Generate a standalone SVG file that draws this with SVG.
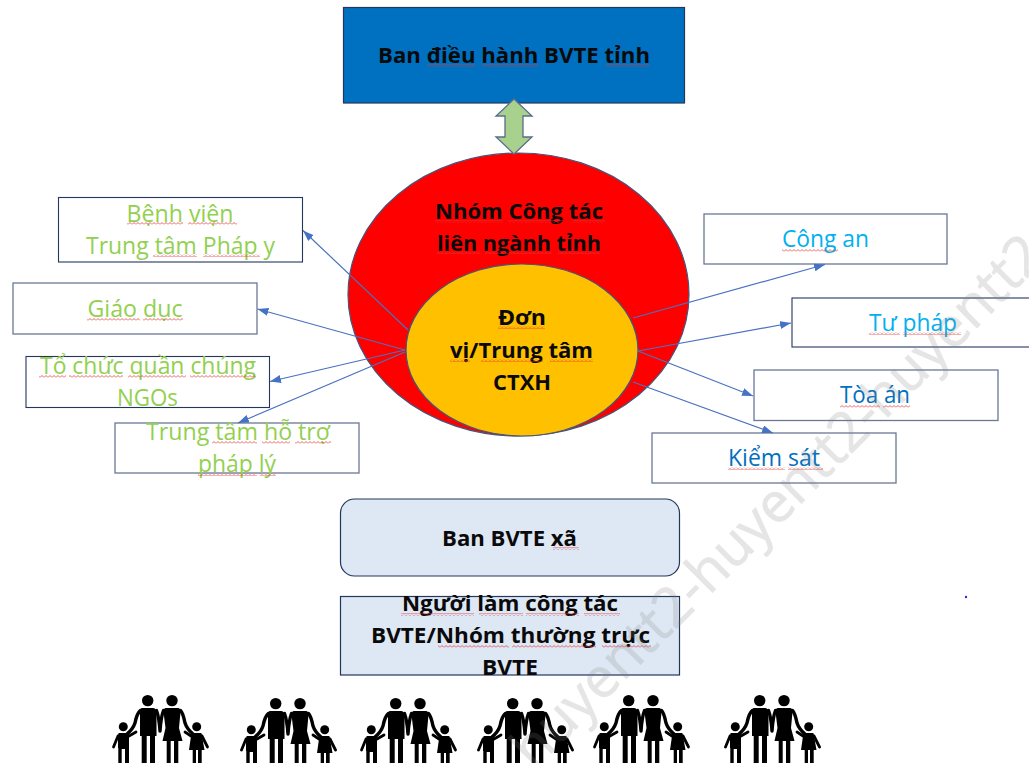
<svg xmlns="http://www.w3.org/2000/svg" width="1029" height="763" viewBox="0 0 1029 763">
<style>
text{font-family:"Open Sans","Noto Sans","Liberation Sans",sans-serif;text-anchor:middle}
.b{font-size:21.5px;font-weight:700;fill:#0a0a0a}
.g{font-size:23px;fill:#92d050}
.c{font-size:23px;fill:#00b0f0}
.d{font-size:23px;fill:#0070c0}
.bx{fill:#fff;stroke:#6a7896;stroke-width:1.3}
.bd{fill:#fff;stroke:#24355e;stroke-width:1.100}
.cn{fill:none;stroke:#4a72c0;stroke-width:1.2;marker-end:url(#ah)}
.sq{fill:url(#sq)}
.wm{font-family:"Open Sans","Liberation Sans",sans-serif;font-size:55px;fill:#808080;stroke:#808080;stroke-width:.8;opacity:.2;text-anchor:start}
.lb{fill:none;stroke:#000;stroke-linecap:round;stroke-linejoin:round}
</style>
<defs>
<marker id="ah" markerWidth="12" markerHeight="9" refX="11" refY="4" orient="auto" markerUnits="userSpaceOnUse"><path d="M0 0L11 4L0 8Z" fill="#4472c4"/></marker>
<pattern id="sq" width="4" height="3" patternUnits="userSpaceOnUse"><path d="M0 2.5L2 .5L4 2.5" fill="none" stroke="#e2383a" stroke-width=".8"/></pattern>
<symbol id="fam" width="98" height="68" viewBox="0 0 98 68" overflow="visible">
<circle cx="35.7" cy="5.6" r="5.7"/><circle cx="60" cy="5.6" r="5.7"/>
<path d="M30 13H41Q44 13 44.500 17V41H43V68H38V41H34.700V68H29.700V41H28V17Q28 13 30 13Z"/>
<path d="M54 13H66Q68.500 13 68.500 17L67 33L70.500 46H66.300V68H62V46H58.700V68H54.700V46H50.500L53.500 33L51.500 17Q51.500 13 54 13Z"/>
<path class="lb" stroke-width="3.400" d="M28.500 15.500Q25 18 23 28Q21 34 15 39M44.500 15.500Q47 22 48 36M51.500 15.500Q49 22 48 36M68.500 15.500Q71 18 73 28Q75 34 81 39"/>
<circle cx="11.300" cy="31.700" r="4.500"/><circle cx="84.700" cy="31.700" r="4.500"/>
<path d="M7 38H15Q17 38 17 41V53H17V68H13V54H9.700V68H6.300V53H6V41Q6 38 7 38Z"/>
<path d="M80 38H89Q90 38 90 41L92.500 55H89.700V68H86V55H84V68H80.700V55H77L79 41Q79 38 80 38Z"/>
<path class="lb" stroke-width="2.800" d="M6 41L1.500 52M17 41L24 37M90 41L95.500 52M79 41L73 37"/>
</symbol>
</defs>
<rect width="1029" height="763" fill="#fff"/>

<g id="node-big-circle"><ellipse cx="518.500" cy="294.500" rx="170.500" ry="141.500" fill="#f00" stroke="#46557a" stroke-width="1.200"/>
<text class="b" x="519" y="219" textLength="168" lengthAdjust="spacingAndGlyphs">Nhóm Công tác</text>
<text class="b" x="519" y="251" textLength="164" lengthAdjust="spacingAndGlyphs">liên ngành tỉnh</text></g>
<g id="node-inner-circle"><ellipse cx="522" cy="350" rx="116" ry="86" fill="#ffc000" stroke="#46557a" stroke-width="1.200"/>
<text class="b" x="522" y="325" textLength="48" lengthAdjust="spacingAndGlyphs">Đơn</text>
<text class="b" x="521.500" y="358" textLength="143" lengthAdjust="spacingAndGlyphs">vị/Trung tâm</text>
<text class="b" x="522" y="390" textLength="58" lengthAdjust="spacingAndGlyphs">CTXH</text></g>

<g id="node-ban-dieu-hanh"><rect x="343.500" y="7.500" width="341" height="95.500" fill="#0070c0" stroke="#24355e" stroke-width="1.200"/>
<text class="b" x="514" y="63" textLength="272" lengthAdjust="spacingAndGlyphs">Ban điều hành BVTE tỉnh</text></g>
<g id="node-double-arrow"><path d="M514 99L532 116H523V137H532L514 154L496 137H505V116H496Z" fill="#a9d18e" stroke="#5b6c8c" stroke-width="1.300"/></g>

<g id="node-benh-vien"><rect class="bd" x="58.500" y="197.500" width="244" height="64.500"/>
<text class="g" x="180" y="222" textLength="107" lengthAdjust="spacingAndGlyphs">Bệnh viện</text>
<text class="g" x="180.500" y="254" textLength="189" lengthAdjust="spacingAndGlyphs">Trung tâm Pháp y</text></g>
<g id="node-giao-duc"><rect class="bx" x="13" y="283" width="244" height="51"/>
<text class="g" x="135" y="317" textLength="95" lengthAdjust="spacingAndGlyphs">Giáo dục</text></g>
<g id="node-to-chuc"><rect class="bd" x="26" y="356.500" width="243.500" height="51"/>
<text class="g" x="148" y="374" textLength="216" lengthAdjust="spacingAndGlyphs">Tổ chức quần chúng</text>
<text class="g" x="147.500" y="406" textLength="61" lengthAdjust="spacingAndGlyphs">NGOs</text></g>
<g id="node-tro-giup"><rect class="bx" x="115" y="423" width="244" height="50"/>
<text class="g" x="238" y="440" textLength="184" lengthAdjust="spacingAndGlyphs">Trung tâm hỗ trợ</text>
<text class="g" x="237" y="472" textLength="78" lengthAdjust="spacingAndGlyphs">pháp lý</text></g>

<g id="node-cong-an"><rect class="bx" x="704" y="214" width="243" height="50"/>
<text class="c" x="825.500" y="247" textLength="87" lengthAdjust="spacingAndGlyphs">Công an</text></g>
<g id="node-tu-phap"><rect class="bd" x="792" y="298" width="245" height="49"/>
<text class="c" x="913" y="330.500" textLength="88" lengthAdjust="spacingAndGlyphs">Tư pháp</text></g>
<g id="node-toa-an"><rect class="bx" x="754" y="370" width="244" height="50.500"/>
<text class="d" x="875" y="402.500" textLength="70" lengthAdjust="spacingAndGlyphs">Tòa án</text></g>
<g id="node-kiem-sat"><rect class="bx" x="652" y="433" width="244" height="50"/>
<text class="d" x="774" y="466" textLength="92" lengthAdjust="spacingAndGlyphs">Kiểm sát</text></g>

<g id="node-ban-xa"><rect x="340.500" y="499" width="339" height="77" rx="14" fill="#dee8f4" stroke="#24355e" stroke-width="1.200"/>
<text class="b" x="509.500" y="545.500" textLength="135" lengthAdjust="spacingAndGlyphs">Ban BVTE xã</text></g>
<g id="node-nguoi-lam"><rect x="340.500" y="596.500" width="339" height="78.500" fill="#dee8f4" stroke="#24355e" stroke-width="1.200"/>
<text class="b" x="510" y="611" textLength="216" lengthAdjust="spacingAndGlyphs">Người làm công tác</text>
<text class="b" x="510.500" y="643" textLength="279" lengthAdjust="spacingAndGlyphs">BVTE/Nhóm thường trực</text>
<text class="b" x="510" y="675" textLength="56" lengthAdjust="spacingAndGlyphs">BVTE</text></g>

<g id="connectors">
<line class="cn" x1="408" y1="330" x2="303" y2="230.500"/>
<line class="cn" x1="405" y1="350" x2="257.500" y2="309"/>
<line class="cn" x1="405" y1="350" x2="270" y2="381.500"/>
<line class="cn" x1="405" y1="352" x2="238" y2="423"/>
<line class="cn" x1="633" y1="318" x2="825" y2="264.500"/>
<line class="cn" x1="638" y1="351" x2="791" y2="323"/>
<line class="cn" x1="638" y1="351" x2="753" y2="396"/>
<line class="cn" x1="633" y1="382" x2="773" y2="433"/>
</g>

<g id="spellcheck-marks">
<rect class="sq" x="427" y="64" width="48" height="3"/><rect class="sq" x="482" y="64" width="56" height="3"/><rect class="sq" x="606" y="64" width="43" height="3"/>
<rect class="sq" x="435" y="220" width="68" height="3"/><rect class="sq" x="508" y="220" width="55" height="3"/><rect class="sq" x="573" y="220" width="32" height="3"/>
<rect class="sq" x="437" y="251" width="43" height="3"/><rect class="sq" x="485" y="251" width="67" height="3"/><rect class="sq" x="558" y="251" width="42" height="3"/>
<rect class="sq" x="498" y="326" width="47" height="3"/><rect class="sq" x="450" y="359" width="20" height="3"/><rect class="sq" x="481" y="359" width="62" height="3"/><rect class="sq" x="550" y="359" width="43" height="3"/>
<rect class="sq" x="127" y="222" width="56" height="3"/><rect class="sq" x="188" y="222" width="49" height="3"/>
<rect class="sq" x="153" y="254" width="44" height="3"/><rect class="sq" x="203" y="254" width="57" height="3"/>
<rect class="sq" x="87" y="318" width="53" height="3"/><rect class="sq" x="143" y="318" width="40" height="3"/>
<rect class="sq" x="39" y="375" width="27" height="3"/><rect class="sq" x="69" y="375" width="54" height="3"/><rect class="sq" x="128" y="375" width="58" height="3"/><rect class="sq" x="190" y="375" width="66" height="3"/>
<rect class="sq" x="212" y="441" width="45" height="3"/><rect class="sq" x="262" y="441" width="28" height="3"/><rect class="sq" x="295" y="441" width="36" height="3"/>
<rect class="sq" x="198" y="473" width="59" height="3"/><rect class="sq" x="260" y="473" width="16" height="3"/>
<rect class="sq" x="782" y="249" width="56" height="3"/>
<rect class="sq" x="869" y="332" width="31" height="3"/><rect class="sq" x="903" y="332" width="58" height="3"/>
<rect class="sq" x="840" y="405" width="40" height="3"/><rect class="sq" x="883" y="405" width="27" height="3"/>
<rect class="sq" x="728" y="467" width="57" height="3"/><rect class="sq" x="788" y="467" width="35" height="3"/>
<rect class="sq" x="553" y="547" width="26" height="3"/>
<rect class="sq" x="401" y="613" width="73" height="3"/><rect class="sq" x="479" y="613" width="44" height="3"/><rect class="sq" x="526" y="613" width="53" height="3"/><rect class="sq" x="584" y="613" width="36" height="3"/>
<rect class="sq" x="438" y="645" width="71" height="3"/><rect class="sq" x="512" y="645" width="84" height="3"/><rect class="sq" x="602" y="645" width="49" height="3"/>
</g>

<g id="families">
<g id="family-1"><use href="#fam" x="112" y="695"/></g>
<g id="family-2"><use href="#fam" x="240" y="698"/></g>
<g id="family-3"><use href="#fam" x="360" y="698"/></g>
<g id="family-4"><use href="#fam" x="477" y="698"/></g>
<g id="family-5"><use href="#fam" x="593" y="695"/></g>
<g id="family-6"><use href="#fam" x="724" y="695"/></g>
</g>
<circle cx="966" cy="597" r="1.200" fill="#2a2ae0"/>
<text class="wm" transform="translate(534 771) rotate(-45)">huyentt2-huyentt2-huyentt2</text>
</svg>
